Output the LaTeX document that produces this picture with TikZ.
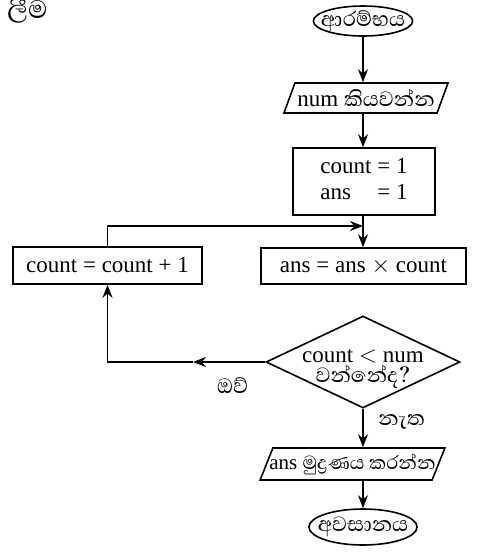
\documentclass[tikz,border=0pt]{standalone}
\usepackage{fontspec}
\setmainfont{Liberation Serif}
\newfontfamily\sinhfont[Script=Sinhala, Scale=1.15]{Abhaya Libre}
\usetikzlibrary{shapes.geometric,arrows.meta}

\begin{document}
\begin{tikzpicture}[x=0.5pt, y=-0.5pt, font=\fontsize{11.5}{13}\selectfont,
    line width=0.8pt, >={Stealth[length=6.5pt,width=5pt]},
    term/.style={draw, ellipse, inner xsep=-3.5pt, inner ysep=-3pt},
    io/.style={draw, trapezium, trapezium left angle=63, trapezium right angle=117,
      trapezium stretches=true, inner xsep=1.25pt, inner ysep=1pt},
    proc/.style={draw, rectangle, inner sep=2pt},
    decide/.style={draw, diamond, aspect=2.1, inner sep=-5pt, align=center}]
    \useasboundingbox (0,0) rectangle (484,554);
    \node at (0,11) [anchor=west, font=\fontsize{14}{16}\selectfont] (heading) {\sinhfont ලීම};
    \node at (363,21) [term, minimum height=15pt] (start) {\sinhfont ආරම්භය};
    \node at (366,98) [io, minimum height=15pt] (read) {num \sinhfont කියවන්න};
    \node at (364,181.5) [proc, minimum width=71pt, minimum height=33.5pt] (init) {\begin{tabular}{@{}l@{ }l@{}}count &= 1\\ ans &= 1\end{tabular}};
    \node at (363.5,266) [proc, minimum width=102.5pt, minimum height=18pt] (mult) {ans = ans $\times$ count};
    \node at (107.5,265.5) [proc, minimum width=94.5pt, minimum height=18.5pt] (inc) {count = count + 1};
    \node at (363,362) [decide, minimum width=97pt, minimum height=46pt] (test) {\rule{0pt}{14pt}count $<$ num\\[-3pt]\sinhfont වන්නේද?};
    \node at (352.5,464) [io, inner xsep=-1.75pt, minimum height=16pt, font=\fontsize{10.5}{12}\selectfont] (print) {ans \sinhfont මුද්‍රණය කරන්න};
    \node at (363,527) [term, minimum height=18pt] (stop) {\sinhfont අවසානය};
    \coordinate (join) at (363,226);
    \coordinate (back) at (193,362);
    % main flow
    \draw[->] (start) -- (start |- read.north);
    \draw[->] (start |- read.south) -- (start |- init.north);
    \draw[->] (init.south -| join) -- (mult.north -| join);
    \draw[->] (test.south) -- (test.south |- print.north) node[pos=0.35, right=4pt] {\sinhfont නැත};
    \draw[->] (stop.north |- print.south) -- (stop);
    % loop back
    \draw[->] (test.west) -- (back) node[pos=0.45, below=4pt] {\sinhfont ඔව්};
    \draw[->] (back) -| (inc.south);
    \draw[->] (inc.north) |- (join);
\end{tikzpicture}
\end{document}
